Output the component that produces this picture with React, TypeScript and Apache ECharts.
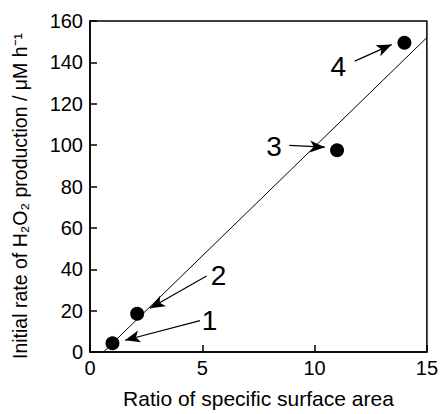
import React, { useEffect, useRef } from "react";
import * as echarts from "echarts";

const points: [number, number][] = [
  [1.0, 4.2],
  [2.1, 18.5],
  [11.0, 97.5],
  [14.0, 149.5],
];
const fitLine: [number, number][] = [
  [0.6, 0],
  [15, 152],
];
const labelTexts = ["1", "2", "3", "4"];
const labelPositions: [number, number][] = [
  [5.32, 15.2],
  [5.72, 36.9],
  [8.19, 99.5],
  [11.06, 138],
];
const arrowStarts: [number, number][] = [
  [4.9, 15.2],
  [5.19, 36.7],
  [8.87, 99.9],
  [11.79, 140.6],
];
const arrowTips: [number, number][] = [
  [1.56, 5.7],
  [2.67, 21.1],
  [10.46, 99.0],
  [13.43, 148.6],
];
const xTicks = { min: 0, max: 15, interval: 5 };
const yTicks = { min: 0, max: 160, interval: 20 };
const xTitle = "Ratio of specific surface area";
const yTitle = "Initial rate of H\u2082O\u2082 production / \u03bcM h\u207b\u00b9";

const FONT = "'Liberation Sans', Arial, Helvetica, sans-serif";

export default function App() {
  const ref = useRef<HTMLDivElement>(null);
  useEffect(() => {
    if (!ref.current) return;
    const chart = echarts.init(ref.current, undefined, { renderer: "svg" });
    chart.setOption({
      animation: false,
      backgroundColor: "#fff",
      grid: {
        left: 90,
        right: 14,
        top: 21,
        bottom: 57,
        show: true,
        borderColor: "#000",
        borderWidth: 1.5,
        backgroundColor: "transparent",
      },
      graphic: [
        {
          type: "text",
          x: 20,
          y: 196,
          rotation: Math.PI / 2,
          style: {
            text: yTitle,
            fontFamily: FONT,
            fontSize: 19.5,
            fill: "#000",
            align: "center",
            verticalAlign: "middle",
          },
        },
      ],
      xAxis: {
        type: "value",
        min: xTicks.min,
        max: xTicks.max,
        interval: xTicks.interval,
        name: xTitle,
        nameLocation: "middle",
        nameGap: 36,
        nameTextStyle: { fontFamily: FONT, fontSize: 21, color: "#000" },
        axisLine: { show: true, lineStyle: { color: "#000", width: 1.5 } },
        axisTick: { show: true, inside: true, length: 7, lineStyle: { color: "#000", width: 1.5 } },
        axisLabel: { fontFamily: FONT, fontSize: 20, color: "#000", margin: 6 },
        splitLine: { show: false },
      },
      yAxis: {
        type: "value",
        min: yTicks.min,
        max: yTicks.max,
        interval: yTicks.interval,
        axisLine: { show: true, lineStyle: { color: "#000", width: 1.5 } },
        axisTick: { show: true, inside: true, length: 7, lineStyle: { color: "#000", width: 1.5 } },
        axisLabel: { fontFamily: FONT, fontSize: 20, color: "#000", margin: 7 },
        splitLine: { show: false },
      },
      series: [
        {
          type: "line",
          data: fitLine,
          symbol: "none",
          lineStyle: { color: "#000", width: 1 },
          silent: true,
          z: 2,
          markLine: {
            silent: true,
            symbol: ["none", "arrow"],
            symbolSize: [9, 15],
            label: { show: false },
            lineStyle: { color: "#000", width: 1.2, type: "solid", opacity: 1 },
            data: arrowStarts.map((s, i) => [
              { coord: s, symbol: "none" },
              { coord: arrowTips[i], symbol: "arrow" },
            ]),
          },
        },
        {
          type: "scatter",
          data: points,
          symbol: "circle",
          symbolSize: 14,
          itemStyle: { color: "#000", opacity: 1 },
          z: 3,
        },
        {
          type: "scatter",
          data: labelPositions.map((p, i) => ({ value: p, name: labelTexts[i] })),
          symbolSize: 1,
          itemStyle: { color: "rgba(0,0,0,0)", opacity: 1 },
          label: {
            show: true,
            position: "inside",
            formatter: (p: any) => p.name,
            fontFamily: FONT,
            fontSize: 28,
            color: "#000",
            opacity: 1,
          },
          z: 4,
        },
      ],
    });
    return () => chart.dispose();
  }, []);
  return <div ref={ref} style={{ width: 441, height: 414, position: "absolute", left: 0, top: 0 }} />;
}
